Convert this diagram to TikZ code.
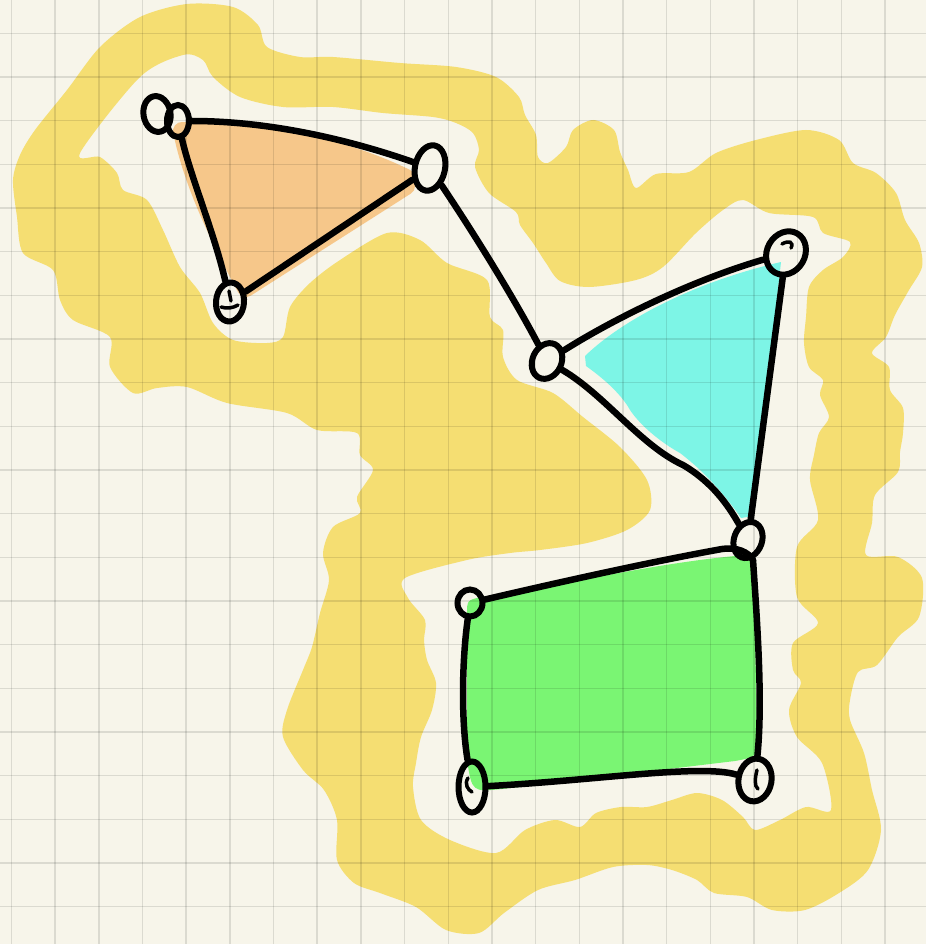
\documentclass[tikz,border=0pt]{standalone}
\usetikzlibrary{shapes.geometric}
\definecolor{paper}{RGB}{247,245,234}
\definecolor{hl}{RGB}{245,222,114}
\definecolor{orangef}{RGB}{246,199,138}
\definecolor{cyanf}{RGB}{125,245,230}
\definecolor{greenf}{RGB}{122,245,115}
\begin{document}
\begin{tikzpicture}[x=1pt,y=-1pt,
  vtx/.style={draw=black, ellipse, line width=6pt, inner sep=0pt, fill=none},
  edge/.style={draw=black, line width=6.5pt, line cap=round, line join=round},
  scrib/.style={draw=black, line width=3.5pt, line cap=round},
  gridline/.style={draw=black, opacity=0.11, line width=1.4pt}]
\useasboundingbox (0,0) rectangle (926,944);
\fill[paper] (0,0) rectangle (926,944);

% yellow highlight band
\fill[hl, even odd rule]
 plot[smooth cycle, tension=0.5] coordinates {
 (100,47) (140,17) (187,4) (233,7) (258,25) (267,47) (300,57) (333,57) (400,63) (456,67)
 (496,77) (519,97) (525,115) (536,135) (538,157) (548,163) (566,147) (573,130) (593,120)
 (614,130) (620,152) (628,170) (636,188) (656,174) (689,172) (716,153) (756,140) (806,130)
 (839,140) (853,163) (876,173) (896,193) (905,220) (919,243) (922,267) (909,290) (895,315)
 (886,337) (872,353) (889,367) (890,390) (903,408) (903,433) (900,452) (898,472) (875,495)
 (872,523) (866,555) (898,557) (922,578) (919,617) (898,637) (877,665) (858,672) (850,700)
 (850,720) (864,753) (872,790) (881,830) (868,870) (839,893) (805,910) (772,910) (747,897)
 (714,893) (697,880) (672,870) (647,865) (613,867) (575,880) (538,890) (504,913) (479,933)
 (446,930) (416,907) (380,893) (354,883) (337,860) (337,820) (324,790) (303,770) (283,737)
 (287,710) (303,670) (312,647) (320,613) (329,580) (323,553) (333,527) (360,513) (357,497)
 (373,470) (360,455) (357,433) (317,430) (287,413) (227,403) (187,387) (157,388) (133,393)
 (110,367) (110,337) (73,320) (60,300) (53,270) (23,253) (17,217) (13,180) (20,155) (35,130)
 (67,90)}
 plot[smooth cycle, tension=0.5] coordinates {
 (140,77) (183,55) (203,60) (213,77) (240,97) (283,107) (333,107) (383,113) (433,117)
 (456,123) (473,133) (479,150) (475,167) (489,193) (516,212) (520,225) (533,243) (546,263)
 (560,281) (589,287) (636,280) (663,267) (696,233) (723,210) (743,200) (769,213) (813,217)
 (823,233) (850,242) (843,257) (823,270) (809,287) (806,317) (804,343) (809,367) (823,380)
 (820,395) (829,417) (819,433) (814,455) (810,480) (818,520) (797,547) (797,597) (818,623)
 (793,643) (793,670) (801,683) (789,710) (797,737) (822,763) (831,810) (806,807) (780,820)
 (755,830) (743,817) (722,800) (697,793) (672,800) (647,807) (621,807) (596,813) (580,827)
 (555,820) (525,830) (496,853) (450,840) (421,820) (413,787) (416,763) (421,737) (432,710)
 (436,683) (427,660) (424,640) (425,620) (408,598) (405,578) (467,560) (510,553) (540,550)
 (587,543) (627,530) (650,510) (647,480) (620,447) (583,417) (553,393) (517,380) (503,357)
 (503,330) (490,317) (487,280) (447,263) (420,240) (387,233) (340,260) (310,283) (290,307)
 (283,337) (267,343) (233,340) (213,323) (200,293) (180,267) (163,230) (147,200) (123,190)
 (117,173) (100,157) (80,153)};

% fills
\filldraw[fill=orangef, draw=orangef, line width=18pt, line join=round]
  (182,131) .. controls (270,132) and (345,148) .. (406,178)
  -- (406,186) -- (246,288) .. controls (215,230) and (192,180) .. cycle;
\fill[cyanf] (585,356) .. controls (620,322) and (690,283) .. (781,262)
  -- (753,516) -- (741,518) .. controls (725,495) and (705,472) .. (680,453)
  .. controls (660,442) and (640,425) .. (630,410)
  .. controls (620,392) and (600,376) .. (586,366) -- cycle;
\fill[greenf] (467,615) .. controls (467,600) .. (482,597)
  .. controls (560,586) and (650,564) .. (735,556)
  .. controls (751,555) .. (754,572) -- (757,735)
  .. controls (757,757) .. (735,761) -- (502,789)
  .. controls (472,792) .. (467,760) -- cycle;

% grid
\foreach \i in {0,...,20} {\draw[gridline] ({11.5+43.67*\i},0) -- ({11.5+43.67*\i},944);}
\foreach \j in {0,...,20} {\draw[gridline] (0,{33.3+43.67*\j}) -- (926,{33.3+43.67*\j});}

% vertices
\node[vtx, minimum width=27pt, minimum height=36pt, rotate=10] (A1) at (157,114) {};
\node[vtx, minimum width=22pt, minimum height=32pt] (A) at (178,121) {};
\node[vtx, minimum width=30pt, minimum height=46pt, rotate=-12] (B) at (430,168) {};
\node[vtx, minimum width=28pt, minimum height=39pt, rotate=-5] (C) at (230,302) {};
\node[vtx, minimum width=29pt, minimum height=37pt, rotate=-25] (D) at (547,361) {};
\node[vtx, minimum width=38pt, minimum height=45pt, rotate=-30] (E) at (786,253) {};
\node[vtx, minimum width=28pt, minimum height=37pt, rotate=-20] (F) at (748,540) {};
\node[vtx, minimum width=25pt, minimum height=27pt] (G) at (470,603) {};
\node[vtx, minimum width=27pt, minimum height=51pt] (I) at (472,787) {};
\node[vtx, minimum width=33pt, minimum height=43pt, rotate=-10] (J) at (755,780) {};
\coordinate (K) at (753,560);
\coordinate (M) at (683,465);

% small scribbles inside the loops
\draw[scrib] (229,291) -- (231,301);
\draw[scrib] (221,307) .. controls (227,309) and (233,308) .. (238,305);
\draw[scrib] (468,778) .. controls (464,784) and (468,790) .. (472,792);
\draw[scrib] (757,770) .. controls (755,778) and (754,786) .. (758,789);
\draw[scrib] (782,244) .. controls (789,240) and (794,242) .. (791,248);

% edges
\draw[edge] (A) .. controls (270,121) and (350,140) .. (B);
\draw[edge] (A) .. controls (190,175) and (215,235) .. (C);
\draw[edge] (C) -- (B);
\draw[edge] (B) .. controls (475,235) and (515,300) .. (D);
\draw[edge] (D) .. controls (612,320) and (690,281) .. (E);
\draw[edge] (E) -- (F);
\draw[edge] (D) .. controls (605,395) and (640,445) .. (M)
  .. controls (712,482) and (728,505) .. (F);
\draw[edge] (G) .. controls (560,582) and (650,562) .. (722,549)
  .. controls (738,547) and (748,552) .. (K);
\draw[edge] (K) .. controls (757,620) and (763,700) .. (J);
\draw[edge] (J) .. controls (700,764) and (600,780) .. (I);
\draw[edge] (G) .. controls (462,660) and (461,720) .. (I);
\end{tikzpicture}
\end{document}
